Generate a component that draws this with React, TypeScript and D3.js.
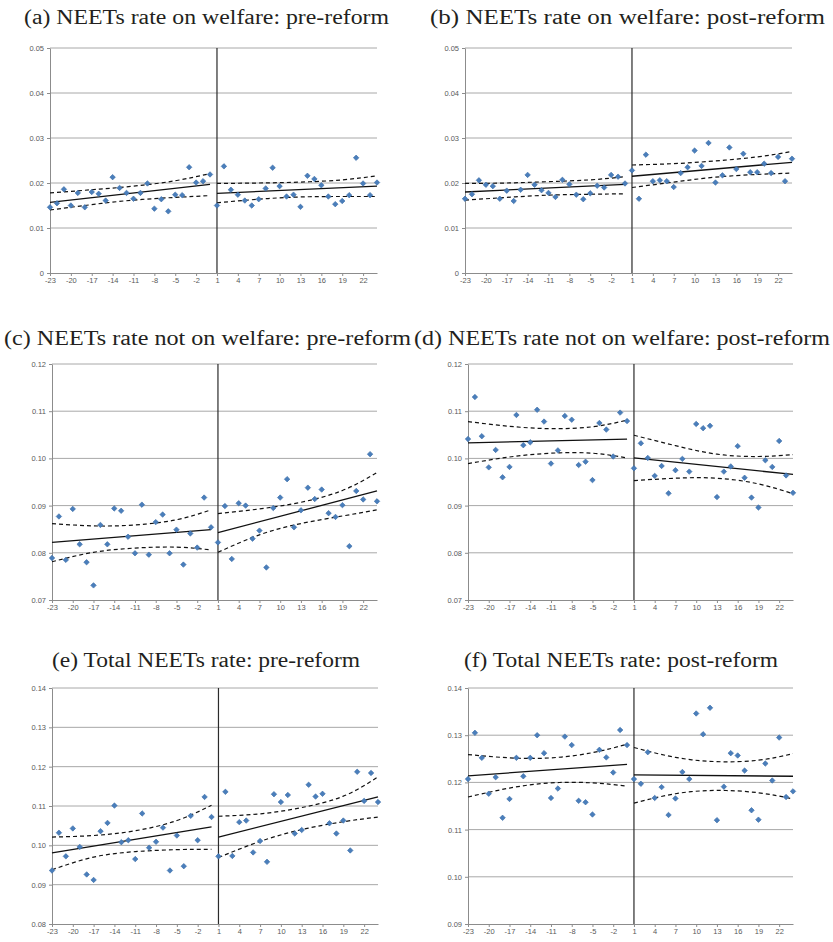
import React, { useEffect, useRef } from 'react';
import * as d3 from 'd3';

// months relative to the reform, 0 included
const categories = [
  -23, -22, -21, -20, -19, -18, -17, -16, -15, -14, -13, -12, -11, -10, -9, -8, -7, -6, -5, -4, -3, -2, -1, 0,
  1, 2, 3, 4, 5, 6, 7, 8, 9, 10, 11, 12, 13, 14, 15, 16, 17, 18, 19, 20, 21, 22, 23, 24
];
const tickCategories = [-23, -20, -17, -14, -11, -8, -5, -2, 1, 4, 7, 10, 13, 16, 19, 22];
const preKnots = [-23, -17, -11, -5, 0];
const postKnots = [1, 7, 13, 19, 24];
const preEnds = [-23, 0];
const postEnds = [1, 24];

const titles = [
  '(a) NEETs rate on welfare: pre-reform',
  '(b) NEETs rate on welfare: post-reform',
  '(c) NEETs rate not on welfare: pre-reform',
  '(d) NEETs rate not on welfare: post-reform',
  '(e) Total NEETs rate: pre-reform',
  '(f) Total NEETs rate: post-reform'
];

// (a)
const aTicks = [0, 0.01, 0.02, 0.03, 0.04, 0.05];
const aValues = [
  0.0146, 0.0155, 0.0186, 0.0150, 0.0178, 0.0146, 0.0180, 0.0176, 0.0161, 0.0213, 0.0189, 0.0178,
  0.0165, 0.0178, 0.0199, 0.0143, 0.0164, 0.0137, 0.0174, 0.0173, 0.0235, 0.0201, 0.0204, 0.0219,
  0.0150, 0.0237, 0.0185, 0.0174, 0.0161, 0.0150, 0.0164, 0.0188, 0.0234, 0.0193, 0.0170, 0.0174,
  0.0147, 0.0216, 0.0209, 0.0195, 0.0170, 0.0153, 0.0160, 0.0173, 0.0256, 0.0199, 0.0173, 0.0201
];
const aFitPre = [0.0157, 0.0197];
const aUpperPre = [0.0178, 0.0185, 0.0193, 0.0205, 0.0221];
const aLowerPre = [0.0140, 0.0152, 0.0162, 0.0168, 0.0172];
const aFitPost = [0.0177, 0.0193];
const aUpperPost = [0.0199, 0.0200, 0.0202, 0.0207, 0.0216];
const aLowerPost = [0.0156, 0.0164, 0.0169, 0.0170, 0.0170];

// (b)
const bTicks = [0, 0.01, 0.02, 0.03, 0.04, 0.05];
const bValues = [
  0.0165, 0.0175, 0.0206, 0.0196, 0.0193, 0.0165, 0.0183, 0.0160, 0.0185, 0.0218, 0.0196, 0.0184,
  0.0178, 0.0169, 0.0207, 0.0197, 0.0174, 0.0164, 0.0177, 0.0194, 0.0190, 0.0218, 0.0214, 0.0199,
  0.0228, 0.0165, 0.0263, 0.0204, 0.0206, 0.0204, 0.0191, 0.0222, 0.0235, 0.0272, 0.0238, 0.0289,
  0.0201, 0.0217, 0.0279, 0.0231, 0.0265, 0.0224, 0.0224, 0.0243, 0.0222, 0.0258, 0.0204, 0.0254
];
const bFitPre = [0.0180, 0.0197];
const bUpperPre = [0.0199, 0.0200, 0.0203, 0.0207, 0.0214];
const bLowerPre = [0.0162, 0.0168, 0.0173, 0.0175, 0.0176];
const bFitPost = [0.0215, 0.0246];
const bUpperPost = [0.0240, 0.0243, 0.0249, 0.0258, 0.0270];
const bLowerPost = [0.0190, 0.0202, 0.0213, 0.0219, 0.0222];

// (c)
const cTicks = [0.07, 0.08, 0.09, 0.10, 0.11, 0.12];
const cValues = [
  0.0789, 0.0877, 0.0785, 0.0893, 0.0818, 0.0780, 0.0731, 0.0859, 0.0818, 0.0894, 0.0889, 0.0834,
  0.0799, 0.0902, 0.0796, 0.0865, 0.0881, 0.0799, 0.0849, 0.0775, 0.0841, 0.0811, 0.0917, 0.0854,
  0.0822, 0.0899, 0.0787, 0.0905, 0.0900, 0.0830, 0.0847, 0.0769, 0.0895, 0.0917, 0.0956, 0.0854,
  0.0890, 0.0938, 0.0914, 0.0934, 0.0884, 0.0876, 0.0901, 0.0814, 0.0931, 0.0913, 0.1009, 0.0909
];
const cFitPre = [0.0822, 0.0849];
const cUpperPre = [0.0862, 0.0857, 0.0859, 0.0870, 0.0891];
const cLowerPre = [0.0781, 0.0801, 0.0810, 0.0812, 0.0806];
const cFitPost = [0.0843, 0.0931];
const cUpperPost = [0.0883, 0.0893, 0.0907, 0.0932, 0.0970];
const cLowerPost = [0.0801, 0.0838, 0.0862, 0.0878, 0.0891];

// (d)
const dTicks = [0.07, 0.08, 0.09, 0.10, 0.11, 0.12];
const dValues = [
  0.1041, 0.1130, 0.1047, 0.0981, 0.1018, 0.0960, 0.0982, 0.1092, 0.1028, 0.1034, 0.1103, 0.1078,
  0.0989, 0.1017, 0.1090, 0.1082, 0.0986, 0.0993, 0.0954, 0.1075, 0.1061, 0.1004, 0.1097, 0.1079,
  0.0979, 0.1032, 0.1001, 0.0963, 0.0984, 0.0926, 0.0975, 0.0999, 0.0972, 0.1073, 0.1064, 0.1069,
  0.0918, 0.0972, 0.0983, 0.1026, 0.0959, 0.0917, 0.0896, 0.0996, 0.0982, 0.1037, 0.0964, 0.0927
];
const dFitPre = [0.1033, 0.1041];
const dUpperPre = [0.1078, 0.1068, 0.1063, 0.1067, 0.1081];
const dLowerPre = [0.0989, 0.1003, 0.1011, 0.1011, 0.1001];
const dFitPost = [0.1001, 0.0966];
const dUpperPost = [0.1049, 0.1027, 0.1009, 0.1004, 0.1008];
const dLowerPost = [0.0953, 0.0958, 0.0958, 0.0946, 0.0925];

// (e)
const eTicks = [0.08, 0.09, 0.10, 0.11, 0.12, 0.13, 0.14];
const eValues = [
  0.0936, 0.1032, 0.0972, 0.1043, 0.0996, 0.0926, 0.0912, 0.1036, 0.1057, 0.1101, 0.1008, 0.1013,
  0.0965, 0.1081, 0.0994, 0.1009, 0.1045, 0.0936, 0.1025, 0.0947, 0.1075, 0.1013, 0.1123, 0.1072,
  0.0972, 0.1136, 0.0973, 0.1059, 0.1063, 0.0982, 0.1011, 0.0958, 0.1130, 0.1110, 0.1128, 0.1030,
  0.1039, 0.1154, 0.1124, 0.1131, 0.1056, 0.1030, 0.1063, 0.0987, 0.1187, 0.1113, 0.1184, 0.1110
];
const eFitPre = [0.0981, 0.1047];
const eUpperPre = [0.1021, 0.1025, 0.1037, 0.1063, 0.1102];
const eLowerPre = [0.0938, 0.0970, 0.0984, 0.0989, 0.0990];
const eFitPost = [0.1021, 0.1123];
const eUpperPost = [0.1074, 0.1080, 0.1096, 0.1125, 0.1174];
const eLowerPost = [0.0969, 0.1010, 0.1040, 0.1060, 0.1072];

// (f)
const fTicks = [0.09, 0.10, 0.11, 0.12, 0.13, 0.14];
const fValues = [
  0.1207, 0.1305, 0.1252, 0.1176, 0.1211, 0.1125, 0.1165, 0.1252, 0.1213, 0.1252, 0.1300, 0.1262,
  0.1167, 0.1187, 0.1297, 0.1279, 0.1161, 0.1158, 0.1132, 0.1269, 0.1253, 0.1221, 0.1311, 0.1279,
  0.1207, 0.1197, 0.1264, 0.1167, 0.1190, 0.1131, 0.1166, 0.1222, 0.1207, 0.1346, 0.1302, 0.1358,
  0.1120, 0.1191, 0.1262, 0.1257, 0.1225, 0.1141, 0.1121, 0.1240, 0.1204, 0.1295, 0.1169, 0.1181
];
const fFitPre = [0.1214, 0.1238];
const fUpperPre = [0.1259, 0.1252, 0.1252, 0.1263, 0.1281];
const fLowerPre = [0.1169, 0.1188, 0.1199, 0.1199, 0.1192];
const fFitPost = [0.1216, 0.1213];
const fUpperPost = [0.1274, 0.1253, 0.1244, 0.1247, 0.1261];
const fLowerPost = [0.1156, 0.1176, 0.1183, 0.1178, 0.1165];

const panels = [
  { ticks: aTicks, values: aValues, fitPre: aFitPre, upperPre: aUpperPre, lowerPre: aLowerPre, fitPost: aFitPost, upperPost: aUpperPost, lowerPost: aLowerPost },
  { ticks: bTicks, values: bValues, fitPre: bFitPre, upperPre: bUpperPre, lowerPre: bLowerPre, fitPost: bFitPost, upperPost: bUpperPost, lowerPost: bLowerPost },
  { ticks: cTicks, values: cValues, fitPre: cFitPre, upperPre: cUpperPre, lowerPre: cLowerPre, fitPost: cFitPost, upperPost: cUpperPost, lowerPost: cLowerPost },
  { ticks: dTicks, values: dValues, fitPre: dFitPre, upperPre: dUpperPre, lowerPre: dLowerPre, fitPost: dFitPost, upperPost: dUpperPost, lowerPost: dLowerPost },
  { ticks: eTicks, values: eValues, fitPre: eFitPre, upperPre: eUpperPre, lowerPre: eLowerPre, fitPost: eFitPost, upperPost: eUpperPost, lowerPost: eLowerPost },
  { ticks: fTicks, values: fValues, fitPre: fFitPre, upperPre: fUpperPre, lowerPre: fLowerPre, fitPost: fFitPost, upperPost: fUpperPost, lowerPost: fLowerPost }
];

// plot boxes and title placement on the page
const boxes = [
  { x: 50, y: 48, w: 327, h: 225 },
  { x: 465, y: 48, w: 327, h: 225 },
  { x: 52, y: 364, w: 325, h: 236 },
  { x: 468, y: 364, w: 325, h: 236 },
  { x: 52, y: 688, w: 326, h: 236 },
  { x: 468, y: 688, w: 325, h: 236 }
];
const titleBoxes = [
  { x: 24, w: 365, y: 24 },
  { x: 430, w: 395, y: 24 },
  { x: 4, w: 407, y: 345 },
  { x: 414, w: 416, y: 345 },
  { x: 52, w: 308, y: 667 },
  { x: 464, w: 314, y: 667 }
];

const width = 833;
const height = 942;

const App: React.FC = () => {
  const svgRef = useRef<SVGSVGElement>(null);

  useEffect(() => {
    if (!svgRef.current) return;
    const svg = d3.select(svgRef.current);
    svg.selectAll('*').remove();

    const fmt = (d: number) => (d === 0 ? '0' : d.toFixed(2));
    const marker = d3.symbol().type(d3.symbolSquare).size(15);

    panels.forEach((p, i) => {
      const box = boxes[i];
      const tb = titleBoxes[i];

      svg.append('text')
        .attr('x', tb.x)
        .attr('y', tb.y)
        .attr('textLength', tb.w)
        .attr('lengthAdjust', 'spacingAndGlyphs')
        .attr('font-family', '"Liberation Serif", "DejaVu Serif", serif')
        .attr('font-size', 20)
        .attr('fill', '#231f20')
        .text(titles[i]);

      const g = svg.append('g').attr('transform', `translate(${box.x},${box.y})`);

      const x = d3.scalePoint<number>().domain(categories).range([0, box.w]);
      const y = d3.scaleLinear()
        .domain([p.ticks[0], p.ticks[p.ticks.length - 1]])
        .range([box.h, 0]);

      // gridlines
      g.selectAll('line.grid')
        .data(p.ticks.slice(1))
        .enter()
        .append('line')
        .attr('class', 'grid')
        .attr('x1', 0)
        .attr('x2', box.w)
        .attr('y1', d => y(d))
        .attr('y2', d => y(d))
        .attr('stroke', '#a8a8a8')
        .attr('stroke-width', 1);

      const yAxis = g.append('g')
        .call(d3.axisLeft(y).tickValues(p.ticks).tickSize(3).tickSizeOuter(0).tickPadding(3).tickFormat(d => fmt(+d)));
      const xAxis = g.append('g')
        .attr('transform', `translate(0,${box.h})`)
        .call(d3.axisBottom(x).tickValues(tickCategories).tickSize(3).tickSizeOuter(0).tickPadding(2));

      [yAxis, xAxis].forEach(ax => {
        ax.select('.domain').attr('stroke', '#8c8c8c');
        ax.selectAll('.tick line').attr('stroke', '#8c8c8c');
        ax.selectAll('.tick text')
          .attr('fill', '#595959')
          .attr('font-family', '"Liberation Sans", Arial, sans-serif')
          .attr('font-size', 7.5);
      });

      // reform month
      g.append('line')
        .attr('x1', x(1) as number)
        .attr('x2', x(1) as number)
        .attr('y1', 0)
        .attr('y2', box.h)
        .attr('stroke', '#2b2b2b')
        .attr('stroke-width', 1.2);

      // fitted lines
      const straight = d3.line<[number, number]>()
        .x(d => x(d[0]) as number)
        .y(d => y(d[1]));
      const band = d3.line<[number, number]>()
        .x(d => x(d[0]) as number)
        .y(d => y(d[1]))
        .curve(d3.curveNatural);

      const drawFit = (cats: number[], vals: number[]) => {
        g.append('path')
          .datum(cats.map((c, k) => [c, vals[k]] as [number, number]))
          .attr('d', straight)
          .attr('fill', 'none')
          .attr('stroke', '#111')
          .attr('stroke-width', 1.3);
      };
      const drawBand = (cats: number[], vals: number[]) => {
        g.append('path')
          .datum(cats.map((c, k) => [c, vals[k]] as [number, number]))
          .attr('d', band)
          .attr('fill', 'none')
          .attr('stroke', '#111')
          .attr('stroke-width', 1.2)
          .attr('stroke-dasharray', '4,3');
      };

      drawFit(preEnds, p.fitPre);
      drawBand(preKnots, p.upperPre);
      drawBand(preKnots, p.lowerPre);
      drawFit(postEnds, p.fitPost);
      drawBand(postKnots, p.upperPost);
      drawBand(postKnots, p.lowerPost);

      // observations
      g.selectAll('path.pt')
        .data(p.values)
        .enter()
        .append('path')
        .attr('class', 'pt')
        .attr('d', marker)
        .attr('transform', (d, k) => `translate(${x(categories[k])},${y(d)}) rotate(45)`)
        .attr('fill', '#4a7ebb')
        .attr('stroke', '#3b6ea8')
        .attr('stroke-width', 0.6);
    });
  }, []);

  return (
    <svg
      ref={svgRef}
      width={width}
      height={height}
      style={{ position: 'absolute', left: 0, top: 0, background: '#fff' }}
    />
  );
};

export default App;
